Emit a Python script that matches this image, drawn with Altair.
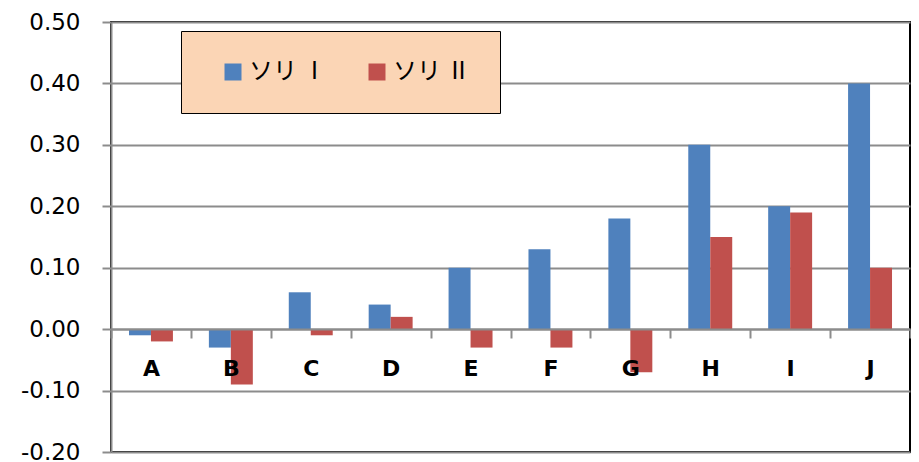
import altair as alt
import pandas as pd

categories = ["A", "B", "C", "D", "E", "F", "G", "H", "I", "J"]
series_names = ["ソリ Ⅰ", "ソリ Ⅱ"]
values_1 = [-0.01, -0.03, 0.06, 0.04, 0.10, 0.13, 0.18, 0.30, 0.20, 0.40]
values_2 = [-0.02, -0.09, -0.01, 0.02, -0.03, -0.03, -0.07, 0.15, 0.19, 0.10]
y_ticks = [-0.2, -0.1, 0.0, 0.1, 0.2, 0.3, 0.4, 0.5]

rows = []
for c, v1, v2 in zip(categories, values_1, values_2):
    rows.append({"cat": c, "series": series_names[0], "value": v1})
    rows.append({"cat": c, "series": series_names[1], "value": v2})
df = pd.DataFrame(rows)

chart = alt.Chart(df).mark_bar().encode(
    x=alt.X("cat:N", sort=categories, title=None,
            scale=alt.Scale(paddingInner=0, paddingOuter=0),
            axis=alt.Axis(orient="bottom", offset=-123, labelAngle=0,
                          tickBand="extent", tickSize=9, tickWidth=2,
                          tickColor="#8c8c8c", domainColor="#8c8c8c",
                          domainWidth=2, labelFont="DejaVu Sans",
                          labelFontWeight="bold", labelFontSize=22,
                          labelColor="black", labelPadding=20, zindex=1)),
    xOffset=alt.XOffset("series:N", sort=series_names,
                        scale=alt.Scale(paddingInner=0, paddingOuter=0.818)),
    y=alt.Y("value:Q", title=None,
            scale=alt.Scale(domain=[-0.2, 0.5], nice=False, zero=False),
            axis=alt.Axis(values=y_ticks, tickSize=9,
                          labelExpr="datum.value < 0 ? '-' + format(-datum.value, '.2f') : format(datum.value, '.2f')",
                          tickWidth=2, tickColor="#8c8c8c",
                          domainColor="#8c8c8c", domainWidth=2,
                          gridColor="#8c8c8c", gridWidth=2,
                          labelFont="DejaVu Sans", labelFontSize=23,
                          labelColor="black", labelPadding=22)),
    color=alt.Color("series:N", sort=series_names,
                    scale=alt.Scale(domain=series_names,
                                    range=["#4F81BD", "#C0504D"]),
                    legend=alt.Legend(orient="none", legendX=70, legendY=9,
                                      direction="horizontal", title=None,
                                      fillColor="#FBD5B5", strokeColor="black",
                                      padding=29, symbolType="square",
                                      symbolSize=289, symbolStrokeWidth=0,
                                      symbolOffset=11,
                                      labelFont="Noto Sans CJK JP",
                                      labelFontSize=24, labelColor="black",
                                      columnPadding=27, labelOffset=4)),
).properties(
    width=799, height=430,
    autosize=alt.AutoSizeParams(type="none"),
    padding={"left": 103, "top": 14, "right": 1, "bottom": 8},
).configure_view(stroke="black", strokeWidth=2)

chart.save("out.html", embed_options={"renderer": "svg", "actions": False})
